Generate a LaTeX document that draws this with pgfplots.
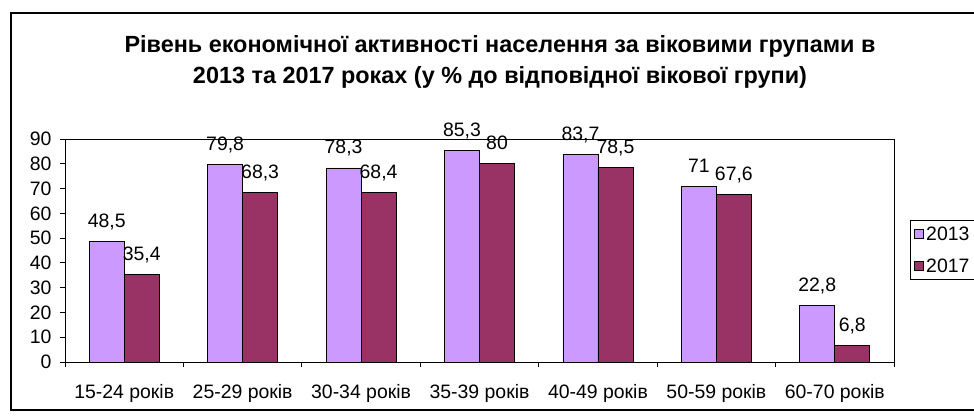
\documentclass[border=0pt]{standalone}
\usepackage{fontspec}
\setmainfont{Liberation Sans}
\usepackage{pgfplots}
\pgfplotsset{compat=1.18}
\definecolor{c2013}{HTML}{CC99FF}
\definecolor{c2017}{HTML}{993366}
\newcommand{\lblfont}{\fontsize{19.5}{21}\selectfont}

\begin{document}
\begin{tikzpicture}[x=1bp,y=1bp]
\useasboundingbox (0,0) rectangle (974,415);
\clip (0,0) rectangle (974,415);
\draw[line width=1.3bp] (11,5) rectangle (1010,402);
\node[font=\fontsize{23.5}{31}\selectfont\bfseries, align=center] at (500,353)
  {Рівень економічної активності населення за віковими групами в\\2013 та 2017 роках (у \% до відповідної вікової групи)};
\begin{axis}[
  at={(65bp,53bp)}, anchor=south west,
  scale only axis, width=829bp, height=223bp,
  ybar=0pt, bar width=35bp,
  xmin=-0.5, xmax=6.5, ymin=0, ymax=90,
  ytick={0,10,...,90},
  xtick={-0.5,0.5,...,6.5},
  x tick label as interval,
  xticklabels={15-24 років,25-29 років,30-34 років,35-39 років,40-49 років,50-59 років,60-70 років},
  xtick pos=bottom, ytick pos=left,
  tick align=outside, major tick length=5bp,
  tick style={black, line width=0.8bp},
  axis line style={line width=0.8bp},
  tick label style={font=\lblfont},
  xticklabel style={yshift=-14bp},
  yticklabel style={xshift=-5bp},
  /pgf/number format/.cd, use comma, assume math mode=true, 1000 sep={}, /pgfplots/.cd,
  nodes near coords,
  every node near coord/.append style={font=\lblfont, anchor=base, yshift=14bp, black},
  legend style={at={(1.0193,0.635)}, anchor=north west, draw=black, line width=0.8bp,
    font=\lblfont, row sep=13bp, inner xsep=4bp, inner ysep=4bp},
  legend cell align=left,
]
\addplot[fill=c2013, draw=black, line width=0.8bp,
  legend image code/.code={\draw[fill=c2013, draw=black, line width=0.8bp] (0bp,-4.5bp) rectangle (9bp,4.5bp);}]
  coordinates {(0,48.5)(1,79.8)(2,78.3)(3,85.3)(4,83.7)(5,71)(6,22.8)};
\addlegendentry{2013}
\addplot[fill=c2017, draw=black, line width=0.8bp,
  legend image code/.code={\draw[fill=c2017, draw=black, line width=0.8bp] (0bp,-4.5bp) rectangle (9bp,4.5bp);}]
  coordinates {(0,35.4)(1,68.3)(2,68.4)(3,80)(4,78.5)(5,67.6)(6,6.8)};
\addlegendentry{2017}
\end{axis}
\end{tikzpicture}
\end{document}
